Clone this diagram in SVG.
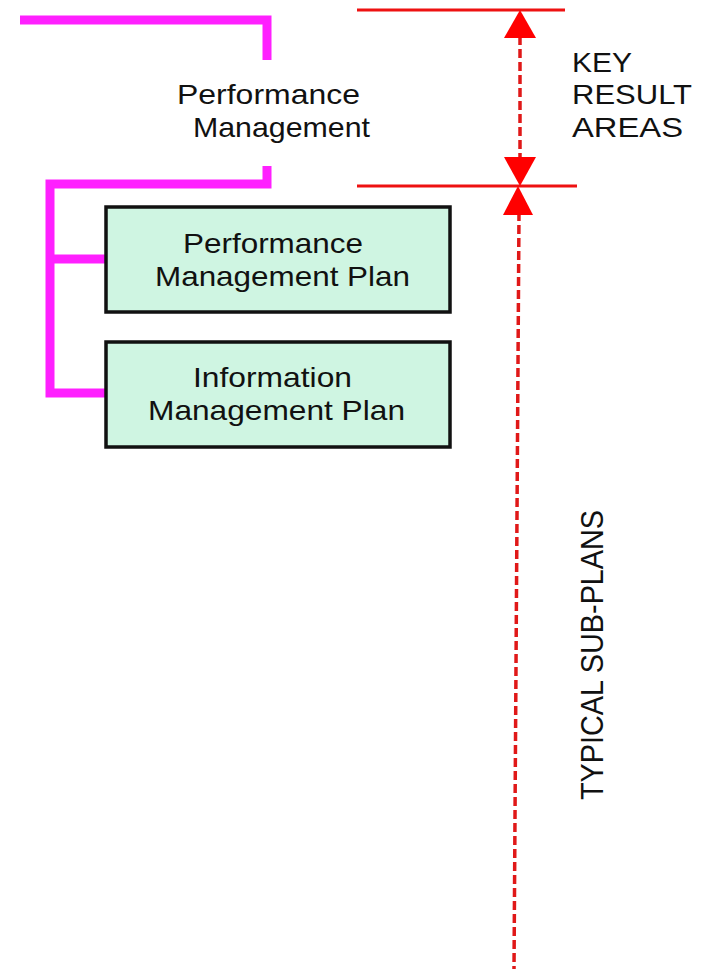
<svg xmlns="http://www.w3.org/2000/svg" width="708" height="969" viewBox="0 0 708 969">
<style>
.t{font-family:"Liberation Sans",Arial,sans-serif;font-size:28px;fill:#111;}
.box{fill:#cff5e2;stroke:#111;stroke-width:3.5;}
.mag{fill:none;stroke:#ff20ff;stroke-width:9;stroke-linejoin:miter;}
.red{stroke:#ee1111;stroke-width:3;fill:none;}
.dash{stroke:#e01818;stroke-width:3.5;stroke-dasharray:9 4;fill:none;}
.ah{fill:#ff0000;}
</style>
<rect width="708" height="969" fill="#fff"/>
<g id="connectors">
<path class="mag" d="M20 20 H267 V60"/>
<path class="mag" d="M267 166 V184 H50 V393 H107"/>
<path class="mag" d="M50 259 H107"/>
<line class="red" x1="357" y1="10" x2="565" y2="10"/>
<line class="red" x1="357" y1="186" x2="577" y2="186"/>
<line class="dash" x1="520" y1="36" x2="520" y2="160"/>
<line class="dash" x1="519" y1="212" x2="514" y2="969"/>
<polygon class="ah" points="520,10 504,38 536,38"/>
<polygon class="ah" points="520,186 504,157 536,157"/>
<polygon class="ah" points="518,186 503,215 533,215"/>
</g>
<g id="performance-management">
<text class="t" x="177" y="104" textLength="183" lengthAdjust="spacingAndGlyphs">Performance</text>
<text class="t" x="193" y="137" textLength="177" lengthAdjust="spacingAndGlyphs">Management</text>
</g>
<g id="performance-management-plan">
<rect class="box" x="106" y="207" width="344" height="105"/>
<text class="t" x="183" y="253" textLength="180" lengthAdjust="spacingAndGlyphs">Performance</text>
<text class="t" x="155" y="286" textLength="255" lengthAdjust="spacingAndGlyphs">Management Plan</text>
</g>
<g id="information-management-plan">
<rect class="box" x="106" y="342" width="344" height="105"/>
<text class="t" x="193" y="387" textLength="159" lengthAdjust="spacingAndGlyphs">Information</text>
<text class="t" x="148" y="420" textLength="257" lengthAdjust="spacingAndGlyphs">Management Plan</text>
</g>
<g id="key-result-areas">
<text class="t" x="572" y="72" textLength="60" lengthAdjust="spacingAndGlyphs">KEY</text>
<text class="t" x="572" y="104" textLength="120" lengthAdjust="spacingAndGlyphs">RESULT</text>
<text class="t" x="572" y="137" textLength="111" lengthAdjust="spacingAndGlyphs">AREAS</text>
</g>
<g id="typical-sub-plans">
<text class="t" transform="translate(603,800) rotate(-90)" x="0" y="0" textLength="290" lengthAdjust="spacingAndGlyphs" style="font-size:32px">TYPICAL SUB-PLANS</text>
</g>
</svg>
